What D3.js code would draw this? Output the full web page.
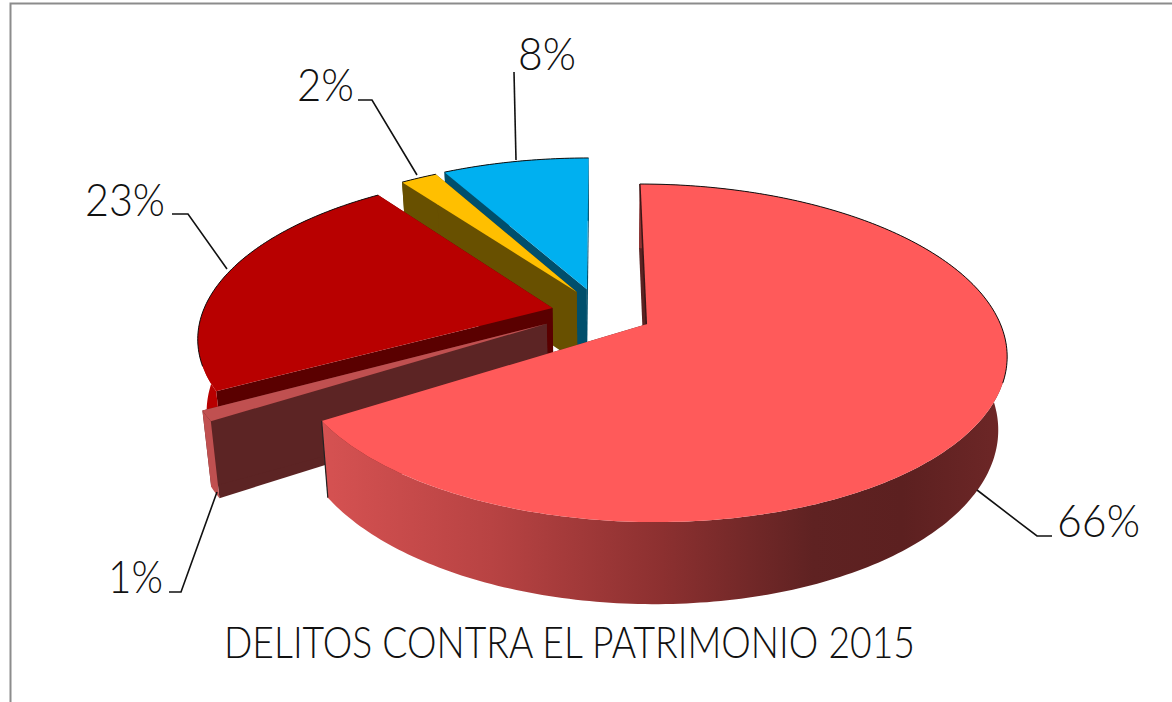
<!DOCTYPE html>
<html>
<head>
<meta charset="utf-8">
<script src="https://cdn.jsdelivr.net/npm/d3@7"></script>
<style>
  body { margin: 0; background: #fff; }
  text { font-family: Lato, "Open Sans", sans-serif; font-weight: 300; fill: #111; }
</style>
</head>
<body>
<div id="graf"></div>
<script>
// valores de la torta, en sentido horario desde las 12
const valores = [66, 1, 23, 2, 8]
const titulo = 'DELITOS CONTRA EL PATRIMONIO 2015'

const coloresTapa = ['#FF5A5A', '#C05050', '#B80000', '#FFBF00', '#00B0F0']
const coloresLado = ['#5C2222', '#5C2424', '#5A0000', '#685000', '#004F6C']
const coloresBorde = ['url(#gradLado)', '#C05050', '#B80000', '#685000', '#004F6C']
const separacion = [50, 62, 50, 50, 50]
// retoque fino de cada porcion, en pixeles
const ajusteX = [1, 0, 0, 2, -2]
const ajusteY = [0, -4, 0, -2, -2]

const ancho = 1172
const alto = 702

// proyeccion de la torta, con algo de perspectiva
const centro = { x: 601, y: 313 }
const radio = 350
const aplaste = 0.458
const persp = 0.169
const grosor = 71
const fondoEscala = 0.978

function proyectar(u, v, abajo) {
  const s = 1 / (1 + persp * v / radio)
  const f = abajo ? fondoEscala : 1
  return [
    centro.x + u * s * f,
    centro.y - v * aplaste * s * f + (abajo ? grosor * s : 0),
  ]
}

function punto(d, ang, r, abajo) {
  const medio = (d.startAngle + d.endAngle) / 2
  const e = separacion[d.index]
  const p = proyectar(
    e * Math.sin(medio) + r * Math.sin(ang),
    e * Math.cos(medio) + r * Math.cos(ang),
    abajo
  )
  return [p[0] + ajusteX[d.index], p[1] + ajusteY[d.index]]
}

function angulos(d) {
  const n = Math.max(2, Math.ceil((d.endAngle - d.startAngle) * 60))
  return d3.range(n + 1).map(i => d.startAngle + (d.endAngle - d.startAngle) * i / n)
}

const linea = d3.line()
const cerrada = pts => linea(pts) + 'Z'

const svg = d3.select('#graf')
  .append('svg')
  .attr('width', ancho)
  .attr('height', alto)
  .style('display', 'block')

// degradado del costado grande
const grad = svg.append('defs')
  .append('linearGradient')
  .attr('id', 'gradLado')
  .attr('gradientUnits', 'userSpaceOnUse')
  .attr('x1', 320).attr('x2', 1005)
  .attr('y1', 0).attr('y2', 0)
grad.selectAll('stop')
  .data([
    [0, '#D65252'], [0.25, '#B84343'], [0.5, '#8C3030'],
    [0.72, '#5F2222'], [0.85, '#5C2020'], [1, '#6E2727'],
  ])
  .join('stop')
  .attr('offset', d => d[0])
  .attr('stop-color', d => d[1])

// marco gris, solo arriba y a la izquierda
svg.append('path')
  .attr('d', linea([[10.5, alto], [10.5, 3.5], [ancho, 3.5]]))
  .attr('fill', 'none')
  .attr('stroke', '#8C8C8C')
  .attr('stroke-width', 2)

const pie = d3.pie().sort(null).value(d => d).startAngle(0).endAngle(2 * Math.PI)
const porciones = pie(valores)

// se pinta de atras hacia adelante, la porcion grande al final
const orden = [4, 3, 2, 1, 0]
const g = svg.append('g')

orden.forEach(i => {
  const d = porciones[i]
  const gp = g.append('g')
  const angs = angulos(d)

  ;[d.startAngle, d.endAngle].forEach(a => {
    gp.append('path')
      .attr('d', cerrada([
        punto(d, a, 0, false), punto(d, a, radio, false),
        punto(d, a, radio, true), punto(d, a, 0, true),
      ]))
      .attr('fill', coloresLado[i])
  })

  gp.append('path')
    .attr('d', cerrada(
      angs.map(a => punto(d, a, radio, false))
        .concat(angs.slice().reverse().map(a => punto(d, a, radio, true)))
    ))
    .attr('fill', coloresBorde[i])

  gp.append('path')
    .attr('d', cerrada([punto(d, 0, 0, false)].concat(angs.map(a => punto(d, a, radio, false)))))
    .attr('fill', coloresTapa[i])

  // filo oscuro del borde trasero
  const atras = angs.filter(a => Math.cos(a) > -0.35)
  if (atras.length > 1) {
    gp.append('path')
      .attr('d', linea(atras.map(a => punto(d, a, radio, false))))
      .attr('fill', 'none')
      .attr('stroke', '#111')
      .attr('stroke-width', 1)
  }

  // la porcion grande lleva filo en el corte de las 12 y en su extremo izquierdo
  if (i === 0) {
    gp.append('path')
      .attr('d', linea([punto(d, d.startAngle, 0, false), punto(d, d.startAngle, radio, false)]))
      .attr('fill', 'none')
      .attr('stroke', '#3A1616')
      .attr('stroke-width', 1.5)
    gp.append('path')
      .attr('d', linea([punto(d, d.endAngle, radio, false), punto(d, d.endAngle, radio, true)]))
      .attr('fill', 'none')
      .attr('stroke', '#222')
      .attr('stroke-width', 1.2)
  }
})

// etiquetas y sus lineas guia
const etiquetas = [
  { i: 0, x: 1057, y: 537, w: 83, guia: [[1052, 536], [1037, 536], [977, 490]] },
  { i: 1, x: 108, y: 593, w: 55, guia: [[169, 592], [181, 592], [217, 492]] },
  { i: 2, x: 85, y: 216, w: 80, guia: [[172, 214], [188, 214], [227, 269]] },
  { i: 3, x: 297, y: 101, w: 57, guia: [[358, 100], [372, 100], [417, 175]] },
  { i: 4, x: 518, y: 70, w: 58, guia: [[514, 72], [516, 160]] },
]

svg.selectAll('path.guia')
  .data(etiquetas)
  .join('path')
  .attr('class', 'guia')
  .attr('d', d => linea(d.guia))
  .attr('fill', 'none')
  .attr('stroke', '#111')
  .attr('stroke-width', 1.6)

svg.selectAll('text.etq')
  .data(etiquetas)
  .join('text')
  .attr('class', 'etq')
  .attr('x', d => d.x)
  .attr('y', d => d.y)
  .attr('font-size', 45)
  .attr('textLength', d => d.w)
  .attr('lengthAdjust', 'spacingAndGlyphs')
  .text(d => valores[d.i] + '%')

svg.append('text')
  .attr('x', 224)
  .attr('y', 658)
  .attr('font-size', 44)
  .attr('textLength', 691)
  .attr('lengthAdjust', 'spacingAndGlyphs')
  .text(titulo)
</script>
</body>
</html>
